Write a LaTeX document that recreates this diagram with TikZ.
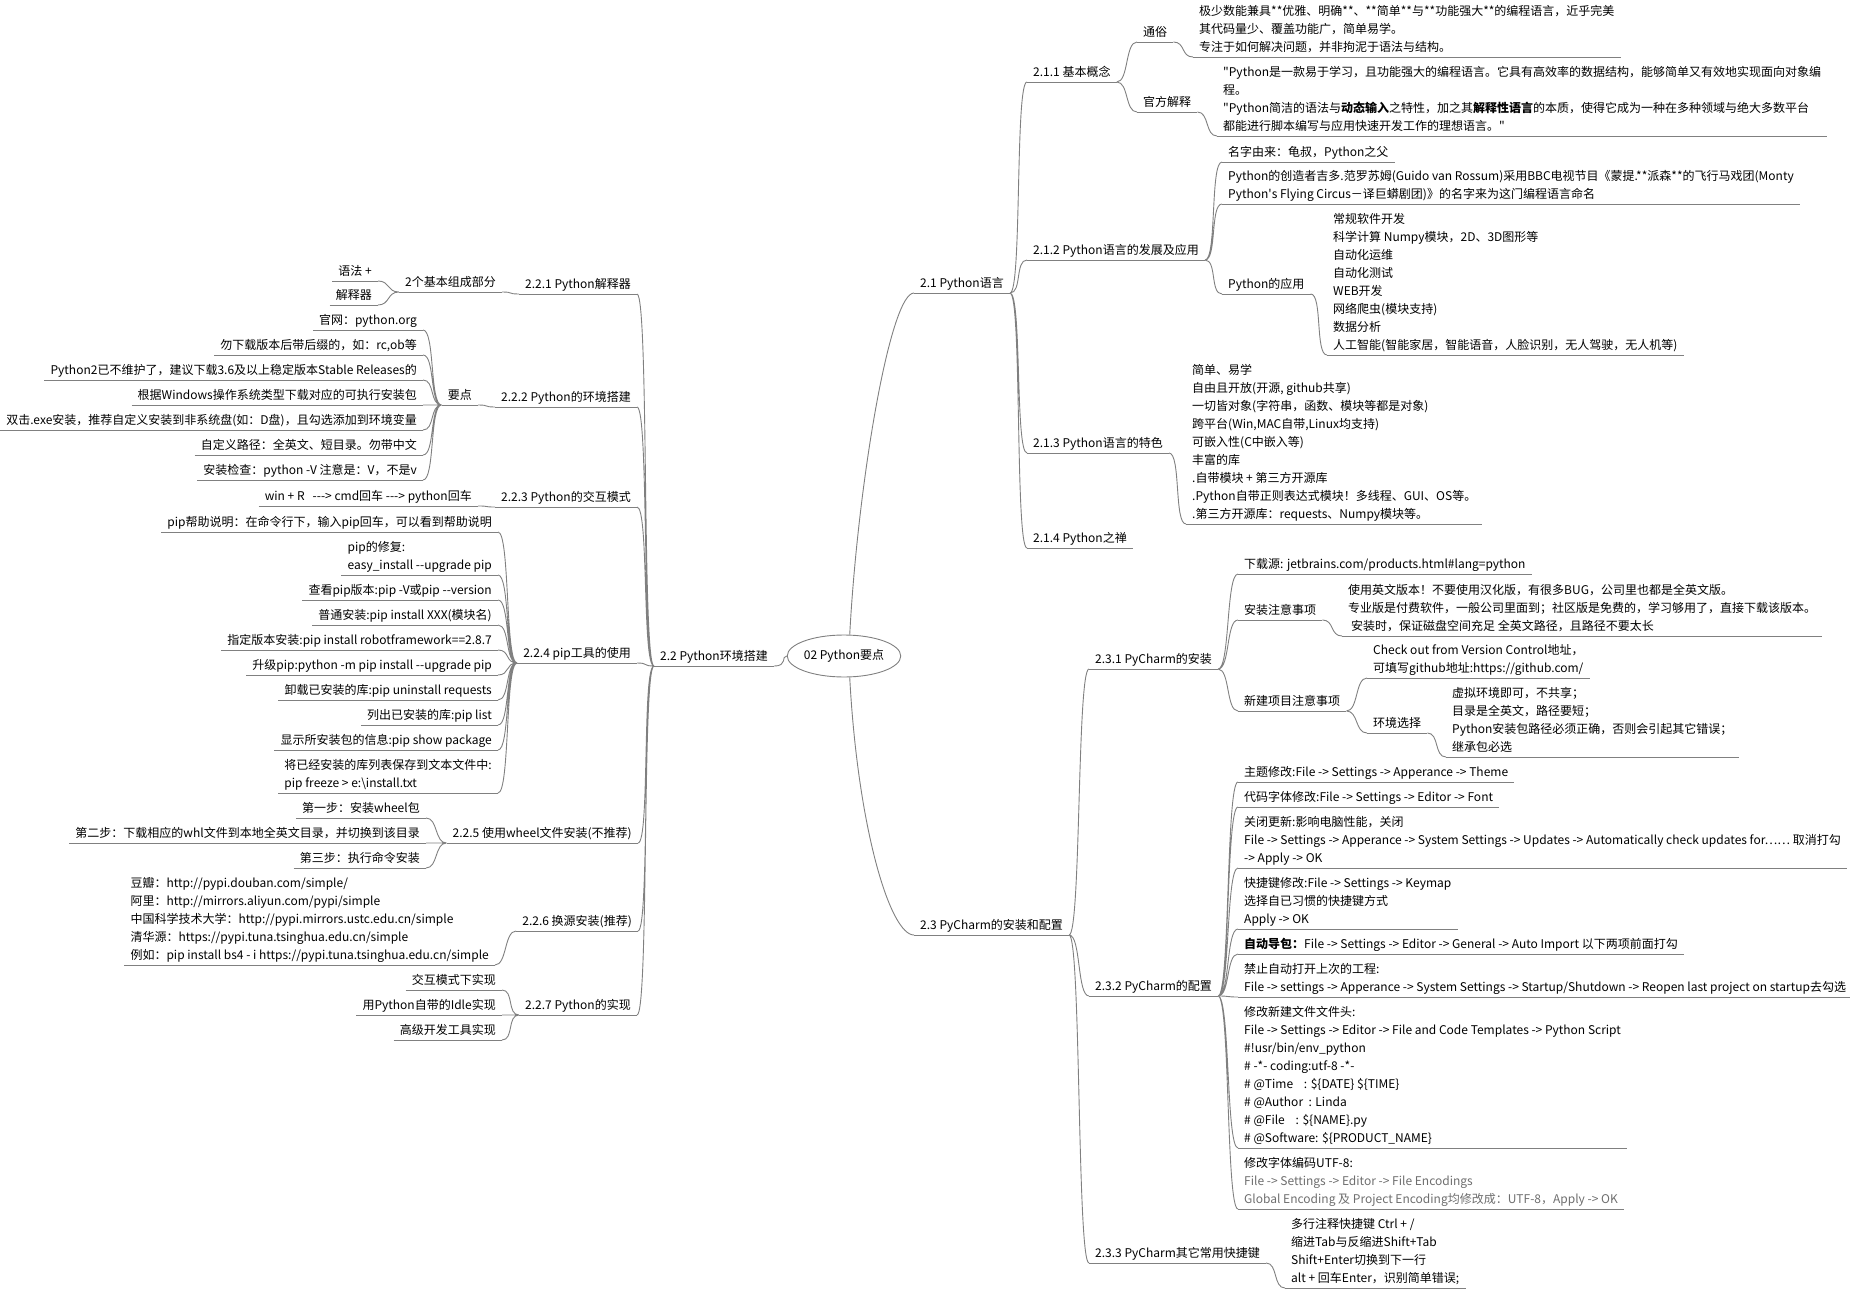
\documentclass[tikz,border=0pt]{standalone}
\usepackage{fontspec}
\setmainfont{Noto Sans CJK SC}
\usetikzlibrary{shapes.geometric}
\definecolor{linegray}{RGB}{128,128,128}
\definecolor{notegray}{RGB}{110,110,110}
\tikzset{
  branch/.style={draw=linegray, line width=0.9pt},
  link/.style={to path={.. controls +(12,0) and +(-12,0) .. (\tikztotarget)}},
  topic/.style={inner xsep=6pt, inner ysep=0pt, align=left,
    font=\fontsize{12}{18}\selectfont,
    execute at begin node=\strut, execute at end node=\strut,
    append after command={\pgfextra{\let\topicnode\tikzlastnode}
      (\topicnode.south west) edge[branch] (\topicnode.south east)}},
  lt/.style={topic, anchor=south east},
  rt/.style={topic, anchor=south west},
}
\begin{document}
\begin{tikzpicture}[x=1pt,y=-1pt]
\useasboundingbox (0,0) rectangle (1850,1289);

% centre
\node[ellipse, draw=linegray, line width=0.9pt, minimum width=98pt, minimum height=42pt,
  inner sep=0pt, font=\fontsize{12}{18}\selectfont] (root) at (844,656) {02 Python要点};

% 2.1
\node[rt] (a21) at (914,293) {2.1 Python语言};
\node[rt] (a211) at (1027,82) {2.1.1 基本概念};
\node[rt] (a211a) at (1137,42) {通俗};
\node[rt] (a211a1) at (1193,57) {极少数能兼具**优雅、明确**、**简单**与**功能强大**的编程语言，近乎完美\\其代码量少、覆盖功能广，简单易学。\\专注于如何解决问题，并非拘泥于语法与结构。};
\node[rt] (a211b) at (1137,112) {官方解释};
\node[rt] (a211b1) at (1217,136) {\textquotedbl Python是一款易于学习，且功能强大的编程语言。它具有高效率的数据结构，能够简单又有效地实现面向对象编\\程。\\\textquotedbl Python简洁的语法与\textbf{动态输入}之特性，加之其\textbf{解释性语言}的本质，使得它成为一种在多种领域与绝大多数平台\\都能进行脚本编写与应用快速开发工作的理想语言。\textquotedbl};
\node[rt] (a212) at (1027,260) {2.1.2 Python语言的发展及应用};
\node[rt] (a212a) at (1222,162) {名字由来：龟叔，Python之父};
\node[rt] (a212b) at (1222,204) {Python的创造者吉多.范罗苏姆(Guido van Rossum)采用BBC电视节目《蒙提.**派森**的飞行马戏团(Monty\\Python\textquotesingle s Flying Circus－译巨蟒剧团)》的名字来为这门编程语言命名};
\node[rt] (a212c) at (1222,294) {Python的应用};
\node[rt] (a212c1) at (1327,355) {常规软件开发\\科学计算 Numpy模块，2D、3D图形等\\自动化运维\\自动化测试\\WEB开发\\网络爬虫(模块支持)\\数据分析\\人工智能(智能家居，智能语音，人脸识别，无人驾驶，无人机等)};
\node[rt] (a213) at (1027,453) {2.1.3 Python语言的特色};
\node[rt] (a213a) at (1186,524) {简单、易学\\自由且开放(开源, github共享)\\一切皆对象(字符串，函数、模块等都是对象)\\跨平台(Win,MAC自带,Linux均支持)\\可嵌入性(C中嵌入等)\\丰富的库\\.自带模块 + 第三方开源库\\.Python自带正则表达式模块！多线程、GUI、OS等。\\.第三方开源库：requests、Numpy模块等。};
\node[rt] (a214) at (1027,548) {2.1.4 Python之禅};

% 2.3
\node[rt] (a23) at (914,935) {2.3 PyCharm的安装和配置};
\node[rt] (a231) at (1089,669) {2.3.1 PyCharm的安装};
\node[rt] (a231a) at (1238,574) {下载源: jetbrains.com/products.html\#lang=python};
\node[rt] (a231b) at (1238,620) {安装注意事项};
\node[rt] (a231b1) at (1342,636) {使用英文版本！不要使用汉化版，有很多BUG，公司里也都是全英文版。\\专业版是付费软件，一般公司里面到；社区版是免费的，学习够用了，直接下载该版本。\\\hspace{3pt}安装时，保证磁盘空间充足 全英文路径，且路径不要太长};
\node[rt] (a231c) at (1238,711) {新建项目注意事项};
\node[rt] (a231c1) at (1367,678) {Check out from Version Control地址，\\可填写github地址:https://github.com/};
\node[rt] (a231c2) at (1367,733) {环境选择};
\node[rt] (a231c21) at (1446,757) {虚拟环境即可，不共享；\\目录是全英文，路径要短；\\Python安装包路径必须正确，否则会引起其它错误；\\继承包必选};
\node[rt] (a232) at (1089,996) {2.3.2 PyCharm的配置};
\node[rt] (a232a) at (1238,782) {主题修改:File -> Settings -> Apperance -> Theme};
\node[rt] (a232b) at (1238,807) {代码字体修改:File -> Settings -> Editor -> Font};
\node[rt] (a232c) at (1238,868) {关闭更新:影响电脑性能，关闭\\File -> Settings -> Apperance -> System Settings -> Updates -> Automatically check updates for……~取消打勾\\-> Apply -> OK};
\node[rt] (a232d) at (1238,929) {快捷键修改:File -> Settings -> Keymap\\选择自已习惯的快捷键方式\\Apply -> OK};
\node[rt] (a232e) at (1238,954) {\textbf{自动导包：}File -> Settings -> Editor -> General -> Auto Import 以下两项前面打勾};
\node[rt] (a232f) at (1238,997) {禁止自动打开上次的工程:\\File -> settings -> Apperance -> System Settings -> Startup/Shutdown -> Reopen last project on startup去勾选};
\node[rt] (a232g) at (1238,1148) {修改新建文件文件头:\\File -> Settings -> Editor -> File and Code Templates -> Python Script\\\#!usr/bin/env\_python\\\# -*- coding:utf-8 -*-\\\# @Time~~~~: \$\{DATE\} \$\{TIME\}\\\# @Author~~: Linda\\\# @File~~~~: \$\{NAME\}.py\\\# @Software: \$\{PRODUCT\_NAME\}};
\node[rt] (a232h) at (1238,1209) {修改字体编码UTF-8:\\\textcolor{notegray}{File -> Settings -> Editor -> File Encodings}\\\textcolor{notegray}{Global Encoding 及 Project Encoding均修改成：UTF-8，Apply -> OK}};
\node[rt] (a233) at (1089,1263) {2.3.3 PyCharm其它常用快捷键};
\node[rt] (a233a) at (1285,1288) {多行注释快捷键 Ctrl + /\\缩进Tab与反缩进Shift+Tab\\Shift+Enter切换到下一行\\alt + 回车Enter，识别简单错误;};

% 2.2
\node[lt] (b22) at (774,666) {2.2 Python环境搭建};
\node[lt] (b221) at (637,294) {2.2.1 Python解释器};
\node[lt] (b221a) at (502,292) {2个基本组成部分};
\node[lt] (b221a1) at (378,281) {语法 +};
\node[lt] (b221a2) at (378,305) {解释器};
\node[lt] (b222) at (637,407) {2.2.2 Python的环境搭建};
\node[lt] (b222a) at (478,405) {要点};
\node[lt] (b222a1) at (423,330) {官网：python.org};
\node[lt] (b222a2) at (423,355) {勿下载版本后带后缀的，如：rc,ob等};
\node[lt] (b222a3) at (423,380) {Python2已不维护了，建议下载3.6及以上稳定版本Stable Releases的};
\node[lt] (b222a4) at (423,405) {根据Windows操作系统类型下载对应的可执行安装包};
\node[lt] (b222a5) at (423,430) {双击.exe安装，推荐自定义安装到非系统盘(如：D盘)，且勾选添加到环境变量};
\node[lt] (b222a6) at (423,455) {自定义路径：全英文、短目录。勿带中文};
\node[lt] (b222a7) at (423,480) {安装检查：python -V 注意是：V，不是v};
\node[lt] (b223) at (637,507) {2.2.3 Python的交互模式};
\node[lt] (b223a) at (478,506) {win + R~~~-{}-{}-> cmd回车 -{}-{}-> python回车};
\node[lt] (b224) at (637,663) {2.2.4 pip工具的使用};
\node[lt] (b224a) at (498,532) {pip帮助说明：在命令行下，输入pip回车，可以看到帮助说明};
\node[lt] (b224b) at (498,575) {pip的修复:\\easy\_install -{}-upgrade pip};
\node[lt] (b224c) at (498,600) {查看pip版本:pip -V或pip -{}-version};
\node[lt] (b224d) at (498,625) {普通安装:pip install XXX(模块名)};
\node[lt] (b224e) at (498,650) {指定版本安装:pip install robotframework==2.8.7};
\node[lt] (b224f) at (498,675) {升级pip:python -m pip install -{}-upgrade pip};
\node[lt] (b224g) at (498,700) {卸载已安装的库:pip uninstall requests};
\node[lt] (b224h) at (498,725) {列出已安装的库:pip list};
\node[lt] (b224i) at (498,750) {显示所安装包的信息:pip show package};
\node[lt] (b224j) at (498,793) {将已经安装的库列表保存到文本文件中:\\pip freeze > e:\textbackslash install.txt};
\node[lt] (b225) at (638,843) {2.2.5 使用wheel文件安装(不推荐)};
\node[lt] (b225a) at (426,818) {第一步：安装wheel包};
\node[lt] (b225b) at (426,843) {第二步：下载相应的whl文件到本地全英文目录，并切换到该目录};
\node[lt] (b225c) at (426,868) {第三步：执行命令安装};
\node[lt] (b226) at (638,931) {2.2.6 换源安装(推荐)};
\node[lt] (b226a) at (495,965) {豆瓣：http://pypi.douban.com/simple/\\阿里：http://mirrors.aliyun.com/pypi/simple\\中国科学技术大学：http://pypi.mirrors.ustc.edu.cn/simple\\清华源：https://pypi.tuna.tsinghua.edu.cn/simple\\例如：pip install bs4 - i https://pypi.tuna.tsinghua.edu.cn/simple};
\node[lt] (b227) at (637,1015) {2.2.7 Python的实现};
\node[lt] (b227a) at (502,990) {交互模式下实现};
\node[lt] (b227b) at (502,1015) {用Python自带的Idle实现};
\node[lt] (b227c) at (502,1040) {高级开发工具实现};

% root links
\draw[branch] (b22.south east) .. controls +(14,0) and +(-6,0) .. (root.west);
\draw[branch] (root.75) .. controls +(8,-150) and +(-24,0) .. (a21.south west);
\draw[branch] (root.-75) .. controls +(8,150) and +(-24,0) .. (a23.south west);

% right side
\draw[branch] (a21.south east) to[link] (a211.south west) (a21.south east) to[link] (a212.south west)
  (a21.south east) to[link] (a213.south west) (a21.south east) to[link] (a214.south west);
\draw[branch] (a211.south east) to[link] (a211a.south west) (a211.south east) to[link] (a211b.south west);
\draw[branch] (a211a.south east) to[link] (a211a1.south west);
\draw[branch] (a211b.south east) to[link] (a211b1.south west);
\draw[branch] (a212.south east) to[link] (a212a.south west) (a212.south east) to[link] (a212b.south west)
  (a212.south east) to[link] (a212c.south west);
\draw[branch] (a212c.south east) to[link] (a212c1.south west);
\draw[branch] (a213.south east) to[link] (a213a.south west);
\draw[branch] (a23.south east) to[link] (a231.south west) (a23.south east) to[link] (a232.south west)
  (a23.south east) to[link] (a233.south west);
\draw[branch] (a231.south east) to[link] (a231a.south west) (a231.south east) to[link] (a231b.south west)
  (a231.south east) to[link] (a231c.south west);
\draw[branch] (a231b.south east) to[link] (a231b1.south west);
\draw[branch] (a231c.south east) to[link] (a231c1.south west) (a231c.south east) to[link] (a231c2.south west);
\draw[branch] (a231c2.south east) to[link] (a231c21.south west);
\draw[branch] (a232.south east) to[link] (a232a.south west) (a232.south east) to[link] (a232b.south west)
  (a232.south east) to[link] (a232c.south west) (a232.south east) to[link] (a232d.south west)
  (a232.south east) to[link] (a232e.south west) (a232.south east) to[link] (a232f.south west)
  (a232.south east) to[link] (a232g.south west) (a232.south east) to[link] (a232h.south west);
\draw[branch] (a233.south east) to[link] (a233a.south west);

% left side
\draw[branch] (b221.south east) to[link] (b22.south west) (b222.south east) to[link] (b22.south west)
  (b223.south east) to[link] (b22.south west) (b224.south east) to[link] (b22.south west)
  (b225.south east) to[link] (b22.south west) (b226.south east) to[link] (b22.south west)
  (b227.south east) to[link] (b22.south west);
\draw[branch] (b221a.south east) to[link] (b221.south west);
\draw[branch] (b221a1.south east) to[link] (b221a.south west) (b221a2.south east) to[link] (b221a.south west);
\draw[branch] (b222a.south east) to[link] (b222.south west);
\draw[branch] (b222a1.south east) to[link] (b222a.south west) (b222a2.south east) to[link] (b222a.south west)
  (b222a3.south east) to[link] (b222a.south west) (b222a4.south east) to[link] (b222a.south west)
  (b222a5.south east) to[link] (b222a.south west) (b222a6.south east) to[link] (b222a.south west)
  (b222a7.south east) to[link] (b222a.south west);
\draw[branch] (b223a.south east) to[link] (b223.south west);
\draw[branch] (b224a.south east) to[link] (b224.south west) (b224b.south east) to[link] (b224.south west)
  (b224c.south east) to[link] (b224.south west) (b224d.south east) to[link] (b224.south west)
  (b224e.south east) to[link] (b224.south west) (b224f.south east) to[link] (b224.south west)
  (b224g.south east) to[link] (b224.south west) (b224h.south east) to[link] (b224.south west)
  (b224i.south east) to[link] (b224.south west) (b224j.south east) to[link] (b224.south west);
\draw[branch] (b225a.south east) to[link] (b225.south west) (b225b.south east) to[link] (b225.south west)
  (b225c.south east) to[link] (b225.south west);
\draw[branch] (b226a.south east) to[link] (b226.south west);
\draw[branch] (b227a.south east) to[link] (b227.south west) (b227b.south east) to[link] (b227.south west)
  (b227c.south east) to[link] (b227.south west);
\end{tikzpicture}
\end{document}
